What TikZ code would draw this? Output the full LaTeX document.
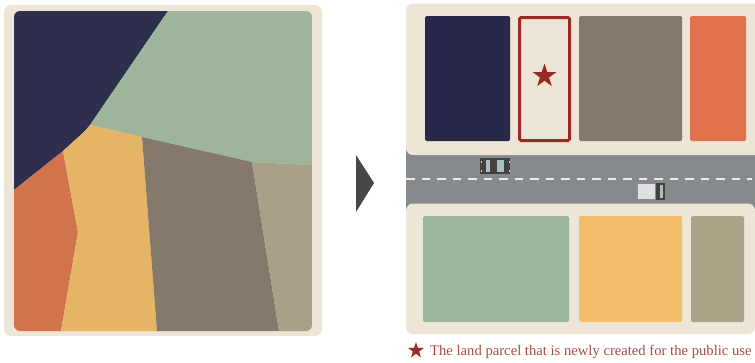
\documentclass[tikz,border=0pt]{standalone}
\usepackage{fontspec}
\setmainfont{Liberation Serif}
\usetikzlibrary{positioning,shapes.geometric}

\definecolor{creamc}{HTML}{EDE6D6}
\definecolor{navyl}{HTML}{2F2F4D}
\definecolor{greenl}{HTML}{9FB59A}
\definecolor{redl}{HTML}{D1734C}
\definecolor{yellowl}{HTML}{E6B467}
\definecolor{brownl}{HTML}{84796A}
\definecolor{tanl}{HTML}{AAA088}
\definecolor{navyr}{HTML}{28294A}
\definecolor{brownr}{HTML}{85796A}
\definecolor{oranger}{HTML}{E0734C}
\definecolor{greenr}{HTML}{9BB79B}
\definecolor{yellowr}{HTML}{F2BE6C}
\definecolor{tanr}{HTML}{ADA389}
\definecolor{roadc}{HTML}{868A8D}
\definecolor{markc}{HTML}{9B2A24}
\definecolor{carc}{HTML}{45423E}
\definecolor{glassc}{HTML}{A9BFC6}

\begin{document}
\begin{tikzpicture}[
	x=1pt, y=-1pt,
	panel/.style={fill=creamc, rounded corners=7pt},
	parcel/.style={rounded corners=1.5pt},
	markstar/.style={
		star, star points=5, star point ratio=2.6,
		fill=markc, inner sep=0pt,
	},
	roadline/.style={white!92!black, line width=2pt, dash pattern=on 8.5pt off 7pt},
	glass/.style={fill=glassc},
]
\useasboundingbox (0,0) rectangle (755,362);

% --- Before: irregular parcels ---
\fill[panel] (4,5) rectangle (322,336);
\begin{scope}
	\clip[rounded corners=6pt] (14,11) rectangle (312,331);
	\fill[navyl] (14,11) -- (168,11) -- (90,125) -- (85,131) -- (63,151) -- (14,190) -- cycle;
	\fill[greenl] (168,11) -- (312,11) -- (312,165) -- (252,162) -- (142,137) -- (90,125) -- cycle;
	\fill[redl] (14,190) -- (63,151) -- (78,232) -- (61,331) -- (14,331) -- cycle;
	\fill[yellowl] (63,151) -- (85,131) -- (90,125) -- (142,137) -- (157,331) -- (61,331) -- (78,232) -- cycle;
	\fill[brownl] (142,137) -- (252,162) -- (279,331) -- (157,331) -- cycle;
	\fill[tanl] (252,162) -- (312,165) -- (312,331) -- (279,331) -- cycle;
\end{scope}

% --- Arrow ---
\fill[black!72] (356,155) -- (374,183) -- (356,212) -- cycle;

% --- After: road ---
\fill[roadc] (406,150) rectangle (755,210);
\draw[roadline] (406,179) -- (752,179);

% --- After: blocks ---
\fill[panel] (406,3.5) rectangle (770,155);
\fill[panel] (406,203.5) rectangle (755,334);

% --- After: parcels ---
\foreach \xa/\ya/\xb/\yb/\col in {
	425/16/510/141/navyr,
	579/16/682/141/brownr,
	690/16/746/141/oranger,
	423/216/569/322/greenr,
	579/216/682/322/yellowr,
	691/216/744/322/tanr}
	\fill[parcel, \col] (\xa,\ya) rectangle (\xb,\yb);
\draw[parcel, markc, line width=3pt] (519.5,17.5) rectangle (569.5,140.5);
\node[markstar, minimum size=25pt] (newstar) at (544.5,76) {};

% --- Car ---
\fill[carc] (480,158) rectangle (510,174);
\fill[glass] (486,160) rectangle (489.5,172);
\fill[glass] (497,160) rectangle (504,172);
\foreach \x in {481,508.5}
	\foreach \y in {161,170}
		\fill[white!85!black] (\x,\y) rectangle ++(1,2);

% --- Truck ---
\fill[carc] (637,183) rectangle (665,200);
\draw[black!45, fill=white!88!black, line width=0.7pt] (637.5,183.5) rectangle (655,199.5);
\fill[glass] (660,185) rectangle (663,198);

% --- Legend ---
\node[markstar, minimum size=17pt] (legendstar) at (416,350.5) {};
\node[anchor=base west, inner sep=0pt, text=markc!85!white, font=\fontsize{14.65}{15}\selectfont]
	(legendtext) at (430,355) {The land parcel that is newly created for the public use};
\end{tikzpicture}
\end{document}
